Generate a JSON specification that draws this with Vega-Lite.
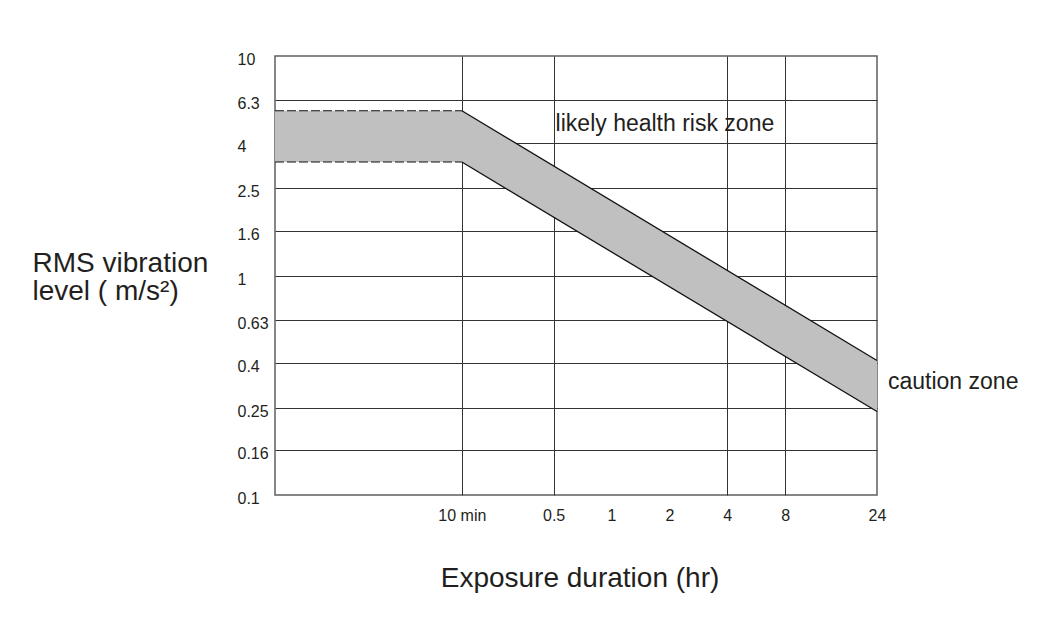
{
  "$schema": "https://vega.github.io/schema/vega-lite/v6.json",
  "width": 602,
  "height": 439,
  "autosize": {"type": "none"},
  "padding": {"left": 275, "top": 56, "right": 174, "bottom": 134},
  "background": "white",
  "config": {
    "font": "Liberation Sans",
    "view": {"stroke": "#5f5f5f", "strokeWidth": 1.5},
    "axis": {
      "domain": false,
      "ticks": false,
      "tickSize": 0,
      "gridColor": "#333333",
      "gridWidth": 1,
      "labelFont": "Liberation Sans",
      "labelFontSize": 16,
      "labelColor": "#231f20",
      "titleFont": "Liberation Sans",
      "titleFontSize": 28,
      "titleFontWeight": "normal",
      "titleColor": "#231f20",
      "labelOverlap": false,
      "labelFlush": false,
      "zindex": 1
    }
  },
  "datasets": {
    "band": [
      {"hours": 0.0178, "upper": 5.63, "lower": 3.29},
      {"hours": 0.1666667, "upper": 5.63, "lower": 3.29},
      {"hours": 24, "upper": 0.41, "lower": 0.24}
    ],
    "notes": [
      {"label": "likely health risk zone", "hours": 0.5, "level": 4.55},
      {"label": "caution zone", "hours": 24, "level": 0.304}
    ]
  },
  "layer": [
    {
      "data": {"name": "band"},
      "mark": {"type": "area", "color": "#c0c0c0", "opacity": 1},
      "encoding": {
        "x": {
          "field": "hours",
          "type": "quantitative",
          "scale": {"type": "log", "domain": [0.0178, 24], "nice": false},
          "axis": {
            "values": [0.1666667, 0.5, 1, 2, 4, 8, 24],
            "labelExpr": "datum.value < 0.2 ? '10 min' : '' + datum.value",
            "labelBaseline": "alphabetic",
            "labelPadding": 25,
            "gridOpacity": {"condition": {"test": "datum.value == 1 || datum.value == 2 || datum.value == 24", "value": 0}, "value": 1},
            "title": "Exposure duration (hr)",
            "titleX": 304.5,
            "titleY": 91,
            "titleBaseline": "alphabetic"
          }
        },
        "y": {
          "field": "upper",
          "type": "quantitative",
          "scale": {"type": "log", "domain": [0.1, 10], "nice": false},
          "axis": {
            "values": [0.1, 0.16, 0.25, 0.4, 0.63, 1, 1.6, 2.5, 4, 6.3, 10],
            "labelExpr": "'' + datum.value",
            "labelAlign": "left",
            "labelPadding": 38,
            "labelBaseline": "middle",
            "labelOffset": 3.5,
            "gridOpacity": {"condition": {"test": "datum.value == 0.1 || datum.value == 10", "value": 0}, "value": 1},
            "title": ["RMS vibration", "level ( m/s²)"],
            "titleAngle": 0,
            "titleAlign": "left",
            "titleBaseline": "alphabetic",
            "titleX": -243,
            "titleY": 215,
            "titleLineHeight": 28
          }
        },
        "y2": {"field": "lower"}
      }
    },
    {
      "data": {"name": "band"},
      "transform": [
        {"fold": ["upper", "lower"], "as": ["edge", "level"]},
        {"filter": "datum.hours < 0.2"}
      ],
      "mark": {"type": "line", "color": "#111111", "strokeWidth": 1.2, "strokeDash": [9, 3]},
      "encoding": {
        "x": {"field": "hours", "type": "quantitative"},
        "y": {"field": "level", "type": "quantitative"},
        "detail": {"field": "edge"}
      }
    },
    {
      "data": {"name": "band"},
      "transform": [
        {"fold": ["upper", "lower"], "as": ["edge", "level"]},
        {"filter": "datum.hours > 0.1"}
      ],
      "mark": {"type": "line", "color": "#111111", "strokeWidth": 1.3},
      "encoding": {
        "x": {"field": "hours", "type": "quantitative"},
        "y": {"field": "level", "type": "quantitative"},
        "detail": {"field": "edge"}
      }
    },
    {
      "data": {"name": "notes"},
      "transform": [{"filter": "datum.label != 'caution zone'"}],
      "mark": {"type": "text", "align": "left", "baseline": "alphabetic", "fontSize": 23, "color": "#231f20", "dx": 2},
      "encoding": {
        "x": {"field": "hours", "type": "quantitative"},
        "y": {"field": "level", "type": "quantitative"},
        "text": {"field": "label"}
      }
    },
    {
      "data": {"name": "notes"},
      "transform": [{"filter": "datum.label == 'caution zone'"}],
      "mark": {"type": "text", "align": "left", "baseline": "alphabetic", "fontSize": 23, "color": "#231f20", "dx": 11},
      "encoding": {
        "x": {"field": "hours", "type": "quantitative"},
        "y": {"field": "level", "type": "quantitative"},
        "text": {"field": "label"}
      }
    }
  ]
}
